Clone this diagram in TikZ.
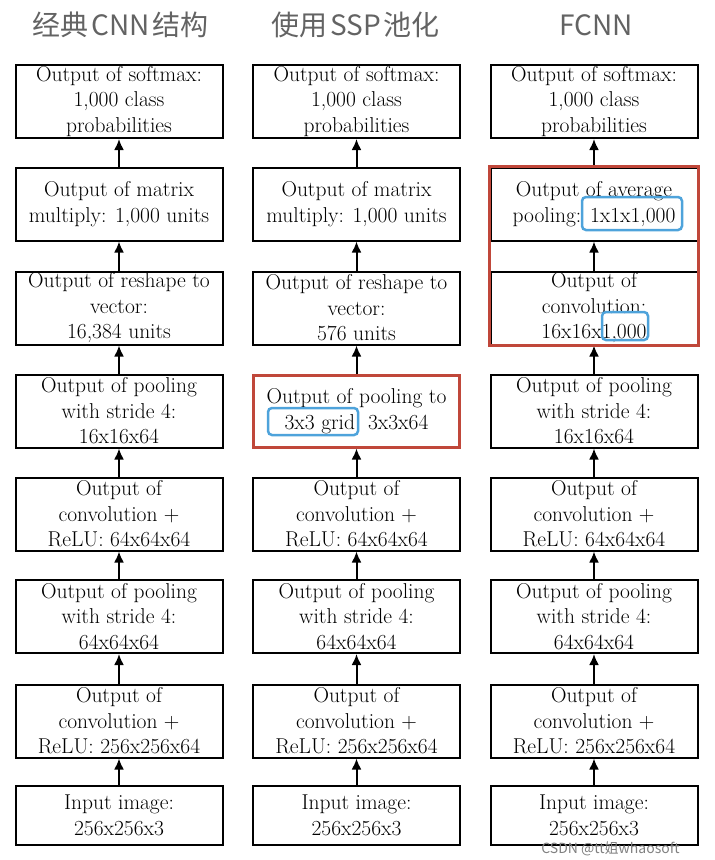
\documentclass[tikz,border=0pt]{standalone}
\usepackage{fontspec}
\newfontfamily\cjk{Noto Sans CJK SC}
\usepackage{xcolor}
\usepackage{tikz}
\usetikzlibrary{arrows.meta,calc}
\definecolor{headgray}{HTML}{636363}
\definecolor{hlred}{HTML}{C0473A}
\definecolor{hlblue}{HTML}{4EA3DB}

\begin{document}
\begin{tikzpicture}[x=1pt,y=-1pt,
    layer/.style={draw,line width=2pt,minimum width=207pt,minimum height=73pt,inner sep=0pt,align=center,font=\fontsize{21.5}{25.5}\selectfont},
    heading/.style={text=headgray,font=\cjk\fontsize{28}{30}\selectfont},
    flow/.style={-{Latex[length=11pt,width=10pt]},line width=2pt},
    redbox/.style={draw=hlred,line width=3pt},
    bluebox/.style={draw=hlblue,line width=2.5pt,rounded corners=4pt}]
        \useasboundingbox (0,0) rectangle (715,860);
        % Headings
        \node[heading] (h1) at (120.5,25) {经典\hspace{3pt}CNN\hspace{3pt}结构};
        \node[heading] (h2) at (355.5,25) {使用\hspace{3pt}SSP\hspace{3pt}池化};
        \node[heading] (h3) at (596,25) {FCNN};
        % Column 1: classic CNN
        \node[layer] (a1) at (119,101.5) {Output of softmax:\\1,000 class\\probabilities};
        \node[layer] (a2) at (119,204) {Output of matrix\\multiply: 1,000 units};
        \node[layer] (a3) at (119,308) {Output of reshape to\\vector:\\16,384 units};
        \node[layer] (a4) at (119,411) {Output of pooling\\with stride 4:\\16x16x64};
        \node[layer] (a5) at (119,514) {Output of\\convolution +\\ReLU: 64x64x64};
        \node[layer] (a6) at (119,616.5) {Output of pooling\\with stride 4:\\64x64x64};
        \node[layer] (a7) at (119,721) {Output of\\convolution +\\ReLU: 256x256x64};
        \node[layer,minimum height=59pt] (a8) at (119,815.5) {Input image:\\256x256x3};
        % Column 2: SSP pooling
        \node[layer] (b1) at (356.5,101.5) {Output of softmax:\\1,000 class\\probabilities};
        \node[layer] (b2) at (356.5,204) {Output of matrix\\multiply: 1,000 units};
        \node[layer] (b3) at (356.5,308) {Output of reshape to\\vector:\\576 units};
        \node[layer] (b4) at (356.5,411) {Output of pooling to\\3x3 grid\ \ 3x3x64};
        \node[layer] (b5) at (356.5,514) {Output of\\convolution +\\ReLU: 64x64x64};
        \node[layer] (b6) at (356.5,616.5) {Output of pooling\\with stride 4:\\64x64x64};
        \node[layer] (b7) at (356.5,721) {Output of\\convolution +\\ReLU: 256x256x64};
        \node[layer,minimum height=59pt] (b8) at (356.5,815.5) {Input image:\\256x256x3};
        % Column 3: FCNN
        \node[layer] (c1) at (594,101.5) {Output of softmax:\\1,000 class\\probabilities};
        \node[layer] (c2) at (594,204) {Output of average\\pooling: 1x1x1,000};
        \node[layer] (c3) at (594,308) {Output of\\convolution:\\16x16x1,000};
        \node[layer] (c4) at (594,411) {Output of pooling\\with stride 4:\\16x16x64};
        \node[layer] (c5) at (594,514) {Output of\\convolution +\\ReLU: 64x64x64};
        \node[layer] (c6) at (594,616.5) {Output of pooling\\with stride 4:\\64x64x64};
        \node[layer] (c7) at (594,721) {Output of\\convolution +\\ReLU: 256x256x64};
        \node[layer,minimum height=59pt] (c8) at (594,815.5) {Input image:\\256x256x3};
        % Edges
        \draw[flow] (a8) -- (a7);
        \draw[flow] (a7) -- (a6);
        \draw[flow] (a6) -- (a5);
        \draw[flow] (a5) -- (a4);
        \draw[flow] (a4) -- (a3);
        \draw[flow] (a3) -- (a2);
        \draw[flow] (a2) -- (a1);
        \draw[flow] (b8) -- (b7);
        \draw[flow] (b7) -- (b6);
        \draw[flow] (b6) -- (b5);
        \draw[flow] (b5) -- (b4);
        \draw[flow] (b4) -- (b3);
        \draw[flow] (b3) -- (b2);
        \draw[flow] (b2) -- (b1);
        \draw[flow] (c8) -- (c7);
        \draw[flow] (c7) -- (c6);
        \draw[flow] (c6) -- (c5);
        \draw[flow] (c5) -- (c4);
        \draw[flow] (c4) -- (c3);
        \draw[flow] (c3) -- (c2);
        \draw[flow] (c2) -- (c1);
        % Highlights
        \draw[redbox] ($(b4.north west)+(1.5,1.5)$) rectangle ($(b4.south east)+(-1.5,-1.5)$);
        \draw[redbox] (c2.north west) rectangle (c3.south east);
        \draw[bluebox] ($(b4)+(-88.5,-3)$) rectangle ($(b4)+(1.5,24)$);
        \draw[bluebox] ($(c2)+(-12,-7)$) rectangle ($(c2)+(88,26)$);
        \draw[bluebox] ($(c3)+(8,4)$) rectangle ($(c3)+(54,32)$);
        % Watermark
        \node[text=gray,inner sep=0pt,font=\cjk\fontsize{14}{16}\selectfont] (wm) at (610.5,849) {CSDN @tt姐whaosoft};
    \end{tikzpicture}
\end{document}
